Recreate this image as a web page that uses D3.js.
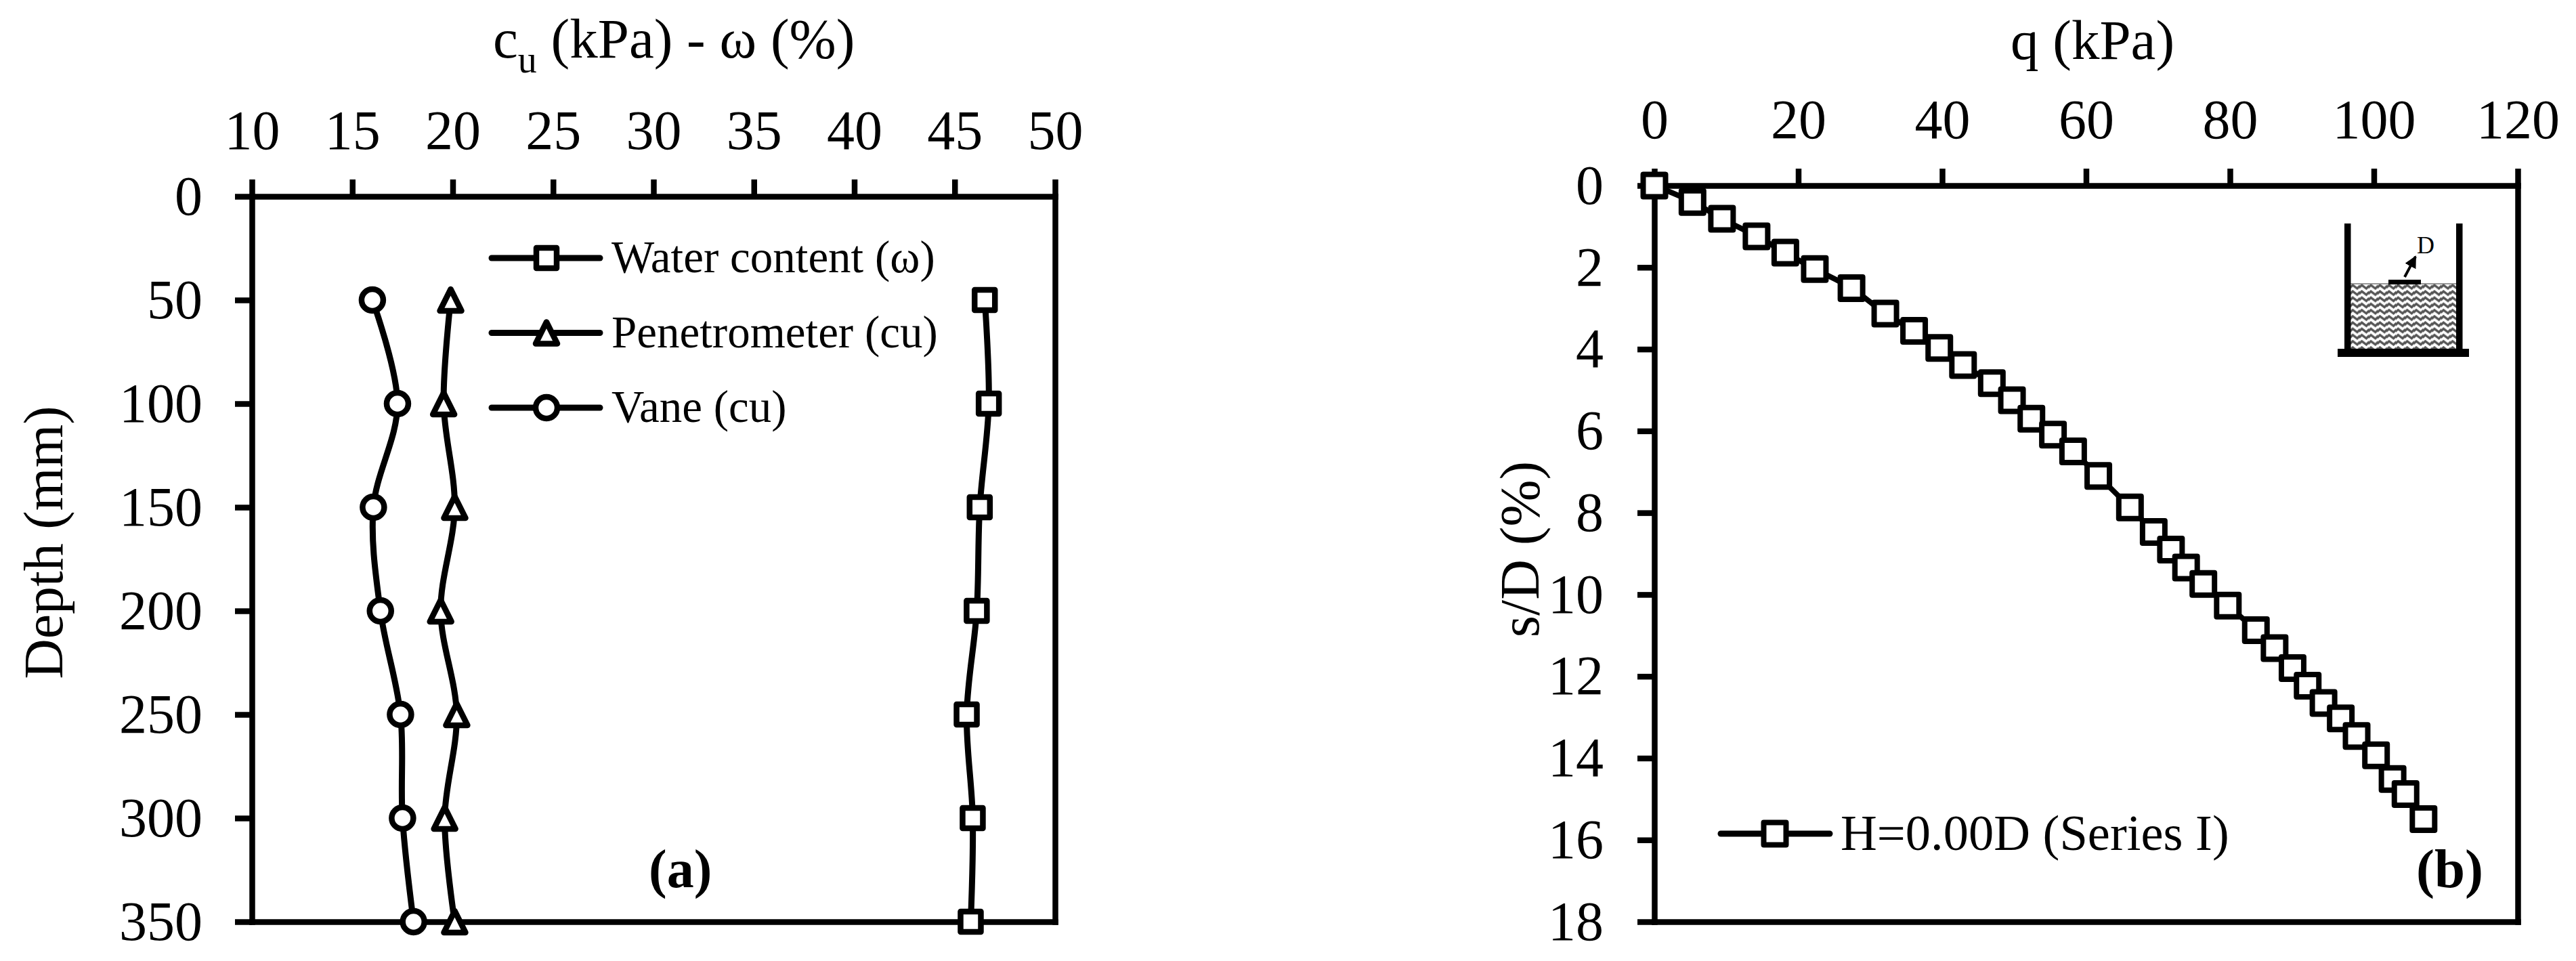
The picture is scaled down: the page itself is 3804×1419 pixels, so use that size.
<!DOCTYPE html>
<meta charset="utf-8">
<style>
body { margin: 0; background: #fff; }
svg { display: block; }
text { font-family: 'Liberation Serif', 'Times New Roman', serif; fill: #000; }
.axis path, .axis line { stroke: #000; stroke-width: 8.5; stroke-linecap: square; }
.axis line { stroke-linecap: butt; }
.axis text { font-family: 'Liberation Serif', 'Times New Roman', serif; font-size: 82px; fill: #000; }
.curve { fill: none; stroke: #000; stroke-width: 9; }
.mark { fill: #fff; stroke: #000; stroke-width: 8.5; stroke-linejoin: round; }
</style>
<body>
<script src="https://d3js.org/d3.v7.min.js"></script>
<script>
// panel (a)
const depth = [50, 100, 150, 200, 250, 300, 350]
const waterContent = [46.5, 46.7, 46.25, 46.1, 45.6, 45.9, 45.8]
const penetrometer = [19.9, 19.55, 20.1, 19.4, 20.2, 19.6, 20.1]
const vane = [16.0, 17.25, 16.05, 16.4, 17.4, 17.5, 18.05]
const aTicksX = [10, 15, 20, 25, 30, 35, 40, 45, 50]
const aTicksY = [0, 50, 100, 150, 200, 250, 300, 350]
const aLegend = ['Water content (\u03c9)', 'Penetrometer (cu)', 'Vane (cu)']

// panel (b)
const q = [0, 5.3, 9.4, 14.2, 18.2, 22.3, 27.4, 32.1, 36.1, 39.6, 42.9, 46.9, 49.7, 52.4, 55.4, 58.2, 61.7,
    66.1, 69.4, 71.8, 73.9, 76.3, 79.7, 83.6, 86.2, 88.7, 90.8, 93.0, 95.4, 97.6, 100.3, 102.6, 104.4, 106.9]
const sD = [0, 0.40, 0.81, 1.24, 1.64, 2.04, 2.51, 3.13, 3.55, 3.97, 4.39, 4.83, 5.25, 5.70, 6.09, 6.5, 7.1,
    7.87, 8.47, 8.9, 9.34, 9.74, 10.27, 10.87, 11.31, 11.8, 12.23, 12.65, 13.03, 13.46, 13.93, 14.51, 14.88, 15.49]
const bTicksX = [0, 20, 40, 60, 80, 100, 120]
const bTicksY = [0, 2, 4, 6, 8, 10, 12, 14, 16, 18]
const bLegend = 'H=0.00D (Series I)'

const svg = d3.select('body').append('svg').attr('width', 3804).attr('height', 1419)

const triangle = {
    draw(ctx, size) {
        const w = Math.sqrt(size)
        ctx.moveTo(0, -w / 2)
        ctx.lineTo(w / 2, w / 2)
        ctx.lineTo(-w / 2, w / 2)
        ctx.closePath()
    }
}
const squareMark = d3.symbol(d3.symbolSquare, 30 * 30)
const triangleMark = d3.symbol(triangle, 32 * 32)
const circleMark = d3.symbol(d3.symbolCircle, Math.PI * 16 * 16)

function frame(x, y, ticksX, ticksY, pad) {
    const top = y.range()[0], bottom = y.range()[1], left = x.range()[0], right = x.range()[1]
    svg.append('g').attr('class', 'axis').attr('transform', `translate(0,${bottom})`)
        .call(d3.axisBottom(x).tickValues([]).tickSize(0))
    svg.append('g').attr('class', 'axis').attr('transform', `translate(${right},0)`)
        .call(d3.axisRight(y).tickValues([]).tickSize(0))
    svg.append('g').attr('class', 'axis').attr('transform', `translate(0,${top})`)
        .call(d3.axisTop(x).tickValues(ticksX).tickSizeInner(25).tickSizeOuter(0).tickPadding(45))
    svg.append('g').attr('class', 'axis').attr('transform', `translate(${left},0)`)
        .call(d3.axisLeft(y).tickValues(ticksY).tickSizeInner(25).tickSizeOuter(0).tickPadding(pad))
}

function series(xs, ys, x, y, mark, lineW, markW) {
    const pts = xs.map((d, i) => [x(d), y(ys[i])])
    const line = d3.line().curve(d3.curveCatmullRom.alpha(0.5))
    svg.append('path').attr('class', 'curve').attr('d', line(pts)).style('stroke-width', lineW)
    svg.append('g').selectAll('path').data(pts).enter().append('path')
        .attr('class', 'mark')
        .attr('d', mark)
        .attr('transform', d => `translate(${d[0]},${d[1]})`)
        .style('stroke-width', markW)
}

// --- panel a
const xa = d3.scaleLinear().domain([10, 50]).range([372, 1558])
const ya = d3.scaleLinear().domain([0, 350]).range([290, 1361])
frame(xa, ya, aTicksX, aTicksY, 48)
series(waterContent, depth, xa, ya, squareMark, 9, 8.5)
series(penetrometer, depth, xa, ya, triangleMark, 9, 8.5)
series(vane, depth, xa, ya, circleMark, 9, 8.5)

const aMarks = [squareMark, triangleMark, circleMark]
const aLegY = d3.scalePoint().domain(aLegend).range([381, 602])
const aRow = svg.append('g').selectAll('g').data(aLegend).enter().append('g')
    .attr('transform', d => `translate(0,${aLegY(d)})`)
aRow.append('line').attr('x1', 726).attr('x2', 886)
    .attr('stroke', '#000').attr('stroke-width', 9).attr('stroke-linecap', 'round')
aRow.append('path').attr('class', 'mark').attr('d', (d, i) => aMarks[i]()).attr('transform', 'translate(807,0)')
aRow.append('text').attr('x', 903).attr('y', 21).attr('font-size', 67).text(d => d)

const aTitle = svg.append('text').attr('x', 728).attr('y', 85).attr('font-size', 83)
aTitle.append('tspan').text('c')
aTitle.append('tspan').attr('font-size', 56).attr('dy', 22).text('u')
aTitle.append('tspan').attr('dy', -22).text(' (kPa) - \u03c9 (%)')

svg.append('text').attr('transform', 'translate(92,801) rotate(-90)')
    .attr('text-anchor', 'middle').attr('font-size', 82).text('Depth (mm)')
svg.append('text').attr('x', 958).attr('y', 1310).attr('font-size', 80).attr('font-weight', 'bold').text('(a)')

// --- panel b
const xb = d3.scaleLinear().domain([0, 120]).range([2443, 3718])
const yb = d3.scaleLinear().domain([0, 18]).range([274, 1361])
frame(xb, yb, bTicksX, bTicksY, 50)
const bMark = d3.symbol(d3.symbolSquare, 33 * 33)
series(q, sD, xb, yb, bMark, 8, 8)

svg.append('line').attr('x1', 2541).attr('x2', 2702).attr('y1', 1231).attr('y2', 1231)
    .attr('stroke', '#000').attr('stroke-width', 9).attr('stroke-linecap', 'round')
svg.append('path').attr('class', 'mark').attr('d', bMark()).attr('transform', 'translate(2621,1231)').style('stroke-width', 8)
svg.append('text').attr('x', 2718).attr('y', 1255).attr('font-size', 74.5).text(bLegend)

svg.append('text').attr('x', 2969).attr('y', 87).attr('font-size', 83).text('q (kPa)')
svg.append('text').attr('transform', 'translate(2272,811) rotate(-90)')
    .attr('text-anchor', 'middle').attr('font-size', 83).text('s/D (%)')
svg.append('text').attr('x', 3568).attr('y', 1310).attr('font-size', 81).attr('font-weight', 'bold').text('(b)')

// --- small sketch of the tank in panel b
const defs = svg.append('defs')
defs.append('pattern').attr('id', 'soil').attr('patternUnits', 'userSpaceOnUse')
    .attr('x', 3471).attr('y', 419).attr('width', 13.4).attr('height', 9.2)
    .append('path').attr('d', 'M-1,6 L3.35,2 L10,7 L14.4,2.5')
    .attr('fill', 'none').attr('stroke', '#555').attr('stroke-width', 3.4)
defs.append('marker').attr('id', 'head').attr('markerUnits', 'userSpaceOnUse')
    .attr('markerWidth', 22).attr('markerHeight', 22).attr('refX', 16).attr('refY', 9).attr('orient', 'auto')
    .append('path').attr('d', 'M0,0 L18,9 L0,18 Z').attr('fill', '#000')
const inset = svg.append('g')
inset.append('rect').attr('x', 3471).attr('y', 419).attr('width', 156).attr('height', 96).attr('fill', 'url(#soil)')
inset.append('line').attr('x1', 3471).attr('x2', 3627).attr('y1', 419).attr('y2', 419).attr('stroke', '#777').attr('stroke-width', 1.5)
inset.append('rect').attr('x', 3462).attr('y', 330).attr('width', 9.5).attr('height', 190).attr('fill', '#000')
inset.append('rect').attr('x', 3627).attr('y', 330).attr('width', 9.5).attr('height', 190).attr('fill', '#000')
inset.append('rect').attr('x', 3452).attr('y', 515).attr('width', 194).attr('height', 12).attr('fill', '#000')
inset.append('rect').attr('x', 3527).attr('y', 413).attr('width', 48).attr('height', 7).attr('fill', '#000')
inset.append('line').attr('x1', 3551).attr('y1', 409).attr('x2', 3567).attr('y2', 379)
    .attr('stroke', '#000').attr('stroke-width', 4).attr('marker-end', 'url(#head)')
inset.append('text').attr('x', 3569).attr('y', 374).attr('font-size', 36).text('D')
</script>
</body>
